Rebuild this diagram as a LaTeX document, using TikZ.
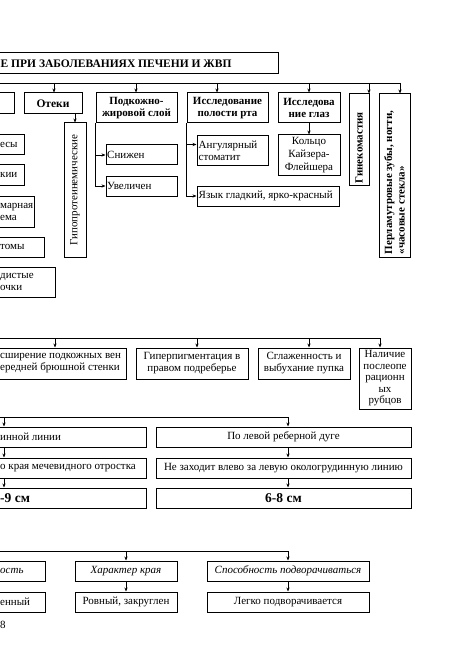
\documentclass[tikz,border=0pt]{standalone}
\usepackage{fontspec}
\setmainfont{Liberation Serif}
\usepackage{graphicx}
\usetikzlibrary{arrows.meta,calc}
\newcommand\mybox[6][]{\node[box,#1,minimum width={#4-#2},minimum height={#5-#3}] (#6) at ({(#2+#4)/2},{(#3+#5)/2})}
\newcommand\drop[3]{\coordinate (dpt) at (#1,0); \draw[arr] (dpt |- #2) -- (dpt |- #3.north);}
\newcommand\link[3]{\coordinate (dpt) at (#1,0); \draw[arr] (dpt |- #2.south) -- (dpt |- #3.north);}
\begin{document}
\begin{tikzpicture}[x=1pt,y=-1pt,
  every node/.style={font=\fontsize{11}{12}\selectfont},
  box/.style={draw,line width=1pt,inner sep=0.5pt,align=center},
  bf/.style={font=\fontsize{11}{12.5}\selectfont\bfseries},
  ttl/.style={font=\fontsize{11.5}{13}\selectfont\bfseries},
  itl/.style={font=\fontsize{11}{12}\selectfont\itshape},
  big/.style={font=\fontsize{13.5}{15}\selectfont\bfseries},
  lbl/.style={inner sep=0pt,anchor=west,align=left},
  arr/.style={line width=0.8pt,-{Stealth[length=4pt,width=3.2pt]}},
  ln/.style={line width=0.8pt}]
\useasboundingbox (0,0) rectangle (475,671);
\clip (0,0) rectangle (475,671);

% title
\mybox{-120}{53}{278}{74}{title}{};
\node[lbl,ttl] (title-t) at (0.5,63.5) {Е ПРИ ЗАБОЛЕВАНИЯХ ПЕЧЕНИ И ЖВП};

% top row
\mybox{-40}{93}{14}{114}{cutA}{};
\mybox[bf,font=\fontsize{11.5}{12.5}\selectfont\bfseries]{24}{93}{82}{114}{otek}{Отеки};
\mybox[bf]{96}{93}{177}{123}{podk}{Подкожно-\\жировой слой};
\mybox[bf]{187}{93}{268}{123}{rot}{Исследование\\полости рта};
\mybox[bf]{278}{93}{340}{123}{glaz}{Исследова\\ние глаз};
\mybox{349}{94}{369}{185}{gyn}{};
\node[bf,rotate=90,anchor=west,inner sep=0pt] (gyn-t) at ($(gyn.south)+(0,-2)$) {Гинекомастия};
\mybox{379}{94}{410}{257}{perl}{};
\node[bf,rotate=90,anchor=west,inner sep=0pt,align=left] (perl-t) at ($(perl.south)+(0,-3)$) {Перламутровые зубы, ногти,\\«часовые стекла»};
\mybox{64}{123}{86}{257}{gipo}{};
\node[rotate=90,inner sep=0pt] (gipo-t) at (gipo.center) {Гипопротеинемические};
\mybox{106}{145}{177}{165}{snig}{};
\node[lbl] (snig-t) at ($(snig.west)+(1.5,0)$) {Снижен};
\mybox{106}{176}{177}{196}{uvel}{};
\node[lbl] (uvel-t) at ($(uvel.west)+(1.5,0)$) {Увеличен};
\mybox{197}{136}{268}{166}{ang}{};
\node[lbl] (ang-t) at ($(ang.west)+(2,0)$) {Ангулярный\\стоматит};
\mybox{197}{186}{339}{206}{yaz}{};
\node[lbl] (yaz-t) at ($(yaz.west)+(2,0)$) {Язык гладкий, ярко-красный};
\mybox[font=\fontsize{11}{13}\selectfont]{278}{135}{340}{175}{kolc}{Кольцо\\Кайзера-\\Флейшера};

% left column
\mybox{-40}{135}{24}{155}{la}{}; \node[lbl] (la-t) at (0,145) {есы};
\mybox{-40}{165}{24}{185}{lb}{}; \node[lbl] (lb-t) at (0,175) {кии};
\mybox{-40}{196}{34}{227}{lc}{}; \node[lbl] (lc-t) at (0,211.5) {марная\\ема};
\mybox{-40}{237}{44}{257}{ld}{}; \node[lbl] (ld-t) at (0,247) {томы};
\mybox{-40}{267}{55}{297}{le}{}; \node[lbl] (le-t) at (0,282) {дистые\\очки};

% top connectors
\coordinate (bus1L) at (0,83);
\coordinate (bus1R) at (400,83);
\draw[ln] (bus1L) -- (bus1R);
\drop{54}{bus1L}{otek}
\drop{136}{bus1L}{podk}
\drop{217}{bus1L}{rot}
\drop{309}{bus1L}{glaz}
\drop{369}{bus1L}{gyn}
\drop{400}{bus1L}{perl}
\link{75}{otek}{gipo}
\draw[arr] (podk.south west) |- (snig.west);
\draw[arr] (podk.south west) |- (uvel.west);
\draw[arr] (rot.south west) |- ($(ang.north west)+(0,9)$);
\draw[arr] (rot.south west) |- (yaz.west);
\draw[arr] (glaz.south) -- (kolc.north);

% middle
\coordinate (bus2L) at (0,338); \coordinate (bus2R) at (380,338);
\draw[ln] (bus2L) -- (bus2R);
\mybox{-80}{348}{126}{379}{ma}{}; \node[lbl] (ma-t) at (0,363.5) {сширение подкожных вен\\ередней брюшной стенки};
\mybox{136}{348}{248}{379}{mb}{Гиперпигментация в\\правом подреберье};
\mybox{258}{348}{350}{379}{mc}{Сглаженность и\\выбухание пупка};
\mybox[font=\fontsize{11}{11.5}\selectfont]{359}{348}{411}{409}{md}{Наличие\\послеопе\\рационн\\ых\\рубцов};
\drop{55}{bus2L}{ma} \drop{197}{bus2L}{mb} \drop{309}{bus2L}{mc} \drop{380}{bus2L}{md}

% rows
\coordinate (bus3L) at (0,417); \coordinate (bus3R) at (288,417);
\draw[ln] (bus3L) -- (bus3R);
\mybox{-80}{427}{146}{447}{ra}{}; \node[lbl] (ra-t) at (0,437) {инной линии};
\mybox{156}{427}{411}{447}{rb}{По левой реберной дуге};
\mybox{-80}{458}{146}{478}{rc}{}; \node[lbl] (rc-t) at (0,468) {о края мечевидного отростка};
\mybox{156}{458}{411}{478}{rd}{Не заходит влево за левую окологрудинную линию};
\mybox{-80}{488}{146}{508}{re}{}; \node[lbl,big] (re-t) at (0,498) {-9 см};
\mybox[big]{156}{488}{411}{508}{rf}{6-8 см};
\drop{4}{bus3L}{ra} \drop{288}{bus3L}{rb}
\link{4}{ra}{rc} \link{288}{rb}{rd} \link{4}{rc}{re} \link{288}{rd}{rf}

% bottom
\coordinate (bus4L) at (0,551); \coordinate (bus4R) at (288,551);
\draw[ln] (bus4L) -- (bus4R);
\mybox{-80}{561}{45}{581}{ba}{}; \node[lbl,itl] (ba-t) at (0,571) {ость};
\mybox[itl]{75}{561}{177}{581}{bb}{Характер края};
\mybox[itl]{207}{561}{369}{581}{bc}{Способность подворачиваться};
\mybox{-80}{592}{45}{612}{bd}{}; \node[lbl] (bd-t) at (0,602) {енный};
\mybox{75}{592}{177}{612}{be}{Ровный, закруглен};
\mybox{207}{592}{369}{612}{bg}{Легко подворачивается};
\drop{126}{bus4L}{bb} \drop{288}{bus4L}{bc}
\link{126}{bb}{be} \link{288}{bc}{bg}
\node[lbl] (pg) at (0,625) {8};
\end{tikzpicture}
\end{document}
